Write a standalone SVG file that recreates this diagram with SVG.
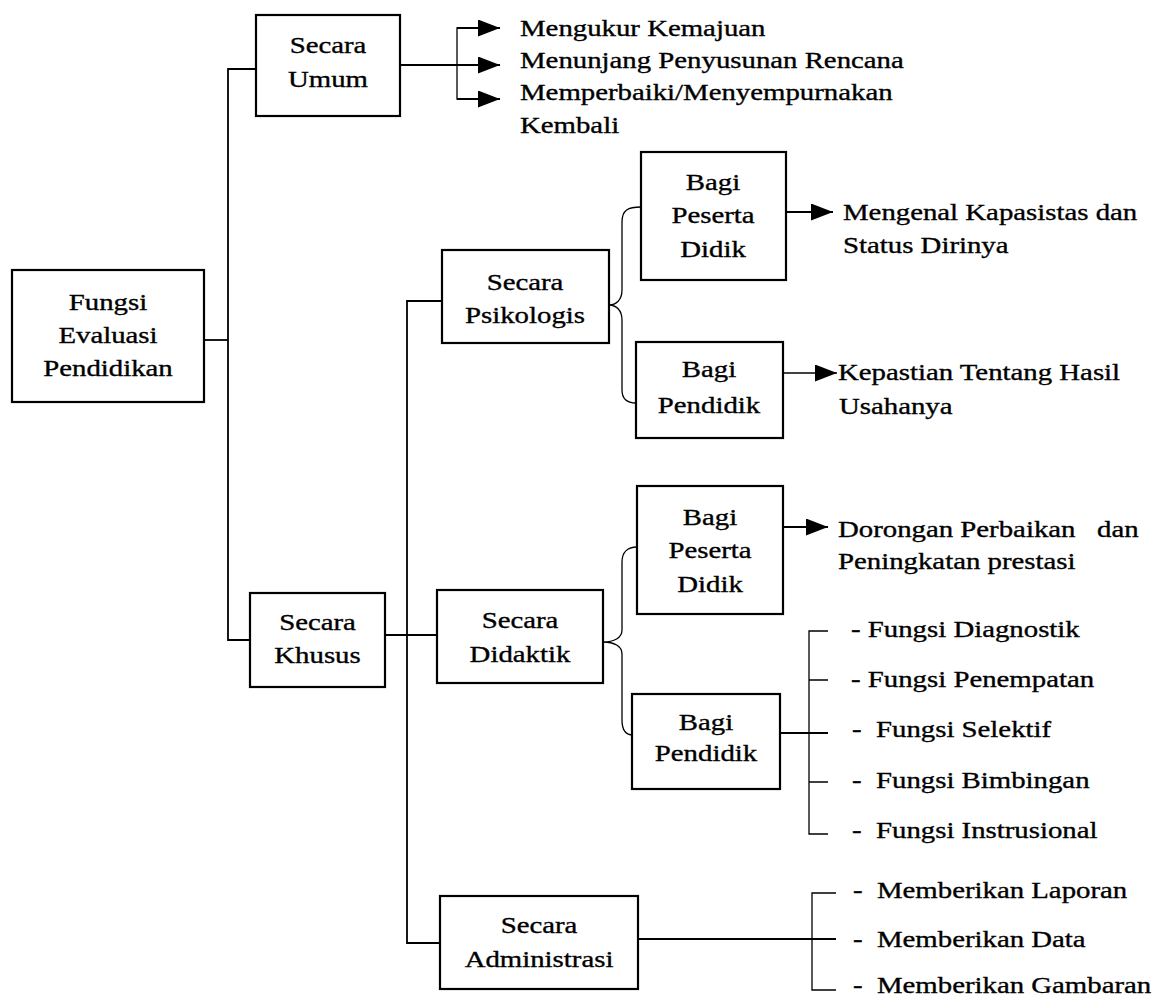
<svg xmlns="http://www.w3.org/2000/svg" width="1159" height="999" viewBox="0 0 1159 999">
<style>
.box{fill:#fff;stroke:#000;stroke-width:2.2}
.ln{fill:none;stroke:#000;stroke-width:1.8}
.thin{fill:none;stroke:#000;stroke-width:1.3}
text{font-family:"Liberation Serif","Times New Roman",serif;font-size:24px;fill:#000;stroke:#000;stroke-width:0.35;white-space:pre}
.c{text-anchor:middle}
</style>
<defs>
<marker id="arr" markerUnits="userSpaceOnUse" markerWidth="22" markerHeight="17" refX="22" refY="8.5" orient="auto">
<path d="M0,0 L22,8.5 L0,17 Z" fill="#000"/>
</marker>
</defs>
<rect width="1159" height="999" fill="#fff"/>
<g id="connectors">
<path class="ln" d="M256,69 H228 V640 H250"/>
<path class="ln" d="M204,340 H228"/>
<path class="ln" d="M385,635 H437"/>
<path class="ln" d="M442,301 H407 V943 H440"/>
<path class="ln" d="M400,65 H500" marker-end="url(#arr)"/>
<path class="thin" d="M478,28 H457 V99 H478"/>
<path class="ln" d="M457,28 H500" marker-end="url(#arr)"/>
<path class="ln" d="M457,99 H500" marker-end="url(#arr)"/>
<path class="ln" d="M786,212 H833" marker-end="url(#arr)"/>
<path class="thin" d="M783,373 H837" marker-end="url(#arr)"/>
<path class="ln" d="M783,527 H828" marker-end="url(#arr)"/>
<path class="thin" d="M641,207 C628,207 622,210 622,222 V290 C622,300 616,305 609,305 C616,305 622,310 622,320 V390 C622,400 628,403 636,403"/>
<path class="thin" d="M637,547 C628,547 622,552 622,562 V630 C622,638 614,642 603,642 C614,642 622,646 622,654 V720 C622,730 626,735 633,735"/>
<path class="ln" d="M780,733 H828"/>
<path class="thin" d="M828,631 H809 V834 H828 M809,680 H828 M809,782 H828"/>
<path class="ln" d="M638,939 H836"/>
<path class="thin" d="M836,893 H812 V990 H836"/>
</g>
<g id="n-fungsi">
<rect class="box" x="12" y="270" width="192" height="132"/>
<text class="c" transform="translate(108 310) scale(1.2 1)">Fungsi</text>
<text class="c" transform="translate(108 343) scale(1.2 1)">Evaluasi</text>
<text class="c" transform="translate(108 376) scale(1.2 1)">Pendidikan</text>
</g>
<g id="n-umum">
<rect class="box" x="256" y="15" width="144" height="101"/>
<text class="c" transform="translate(328 53) scale(1.2 1)">Secara</text>
<text class="c" transform="translate(328 87) scale(1.2 1)">Umum</text>
</g>
<g id="n-khusus">
<rect class="box" x="250" y="593" width="135" height="94"/>
<text class="c" transform="translate(317.5 630) scale(1.2 1)">Secara</text>
<text class="c" transform="translate(317.5 663) scale(1.2 1)">Khusus</text>
</g>
<g id="n-psikologis">
<rect class="box" x="442" y="250" width="167" height="93"/>
<text class="c" transform="translate(525 290) scale(1.2 1)">Secara</text>
<text class="c" transform="translate(525 323) scale(1.2 1)">Psikologis</text>
</g>
<g id="n-didaktik">
<rect class="box" x="437" y="590" width="166" height="93"/>
<text class="c" transform="translate(520 628) scale(1.2 1)">Secara</text>
<text class="c" transform="translate(520 662) scale(1.2 1)">Didaktik</text>
</g>
<g id="n-administrasi">
<rect class="box" x="440" y="896" width="198" height="93"/>
<text class="c" transform="translate(539 933) scale(1.2 1)">Secara</text>
<text class="c" transform="translate(539 967) scale(1.2 1)">Administrasi</text>
</g>
<g id="n-peserta1">
<rect class="box" x="641" y="152" width="145" height="128"/>
<text class="c" transform="translate(713 190) scale(1.2 1)">Bagi</text>
<text class="c" transform="translate(713 223) scale(1.2 1)">Peserta</text>
<text class="c" transform="translate(713 257) scale(1.2 1)">Didik</text>
</g>
<g id="n-pendidik1">
<rect class="box" x="636" y="342" width="147" height="96"/>
<text class="c" transform="translate(709 377) scale(1.2 1)">Bagi</text>
<text class="c" transform="translate(709 413) scale(1.2 1)">Pendidik</text>
</g>
<g id="n-peserta2">
<rect class="box" x="637" y="486" width="146" height="128"/>
<text class="c" transform="translate(710 525) scale(1.2 1)">Bagi</text>
<text class="c" transform="translate(710 558) scale(1.2 1)">Peserta</text>
<text class="c" transform="translate(710 592) scale(1.2 1)">Didik</text>
</g>
<g id="n-pendidik2">
<rect class="box" x="632" y="694" width="148" height="95"/>
<text class="c" transform="translate(706 730) scale(1.2 1)">Bagi</text>
<text class="c" transform="translate(706 761) scale(1.2 1)">Pendidik</text>
</g>
<g id="labels">
<text transform="translate(520 36) scale(1.2 1)">Mengukur Kemajuan</text>
<text transform="translate(520 68) scale(1.2 1)">Menunjang Penyusunan Rencana</text>
<text transform="translate(520 100) scale(1.2 1)">Memperbaiki/Menyempurnakan</text>
<text transform="translate(520 133) scale(1.2 1)">Kembali</text>
<text transform="translate(843 220) scale(1.2 1)">Mengenal Kapasistas dan</text>
<text transform="translate(843 253) scale(1.2 1)">Status Dirinya</text>
<text transform="translate(838 380) scale(1.2 1)">Kepastian Tentang Hasil</text>
<text transform="translate(839 414) scale(1.2 1)">Usahanya</text>
<text transform="translate(838 537) scale(1.2 1)">Dorongan Perbaikan   dan</text>
<text transform="translate(838 569) scale(1.2 1)">Peningkatan prestasi</text>
<text transform="translate(851 637) scale(1.2 1)">- Fungsi Diagnostik</text>
<text transform="translate(851 687) scale(1.2 1)">- Fungsi Penempatan</text>
<text transform="translate(852 737) scale(1.2 1)">-  Fungsi Selektif</text>
<text transform="translate(852 788) scale(1.2 1)">-  Fungsi Bimbingan</text>
<text transform="translate(852 838) scale(1.2 1)">-  Fungsi Instrusional</text>
<text transform="translate(853 898) scale(1.2 1)">-  Memberikan Laporan</text>
<text transform="translate(853 947) scale(1.2 1)">-  Memberikan Data</text>
<text transform="translate(853 993) scale(1.2 1)">-  Memberikan Gambaran</text>
</g>
</svg>
